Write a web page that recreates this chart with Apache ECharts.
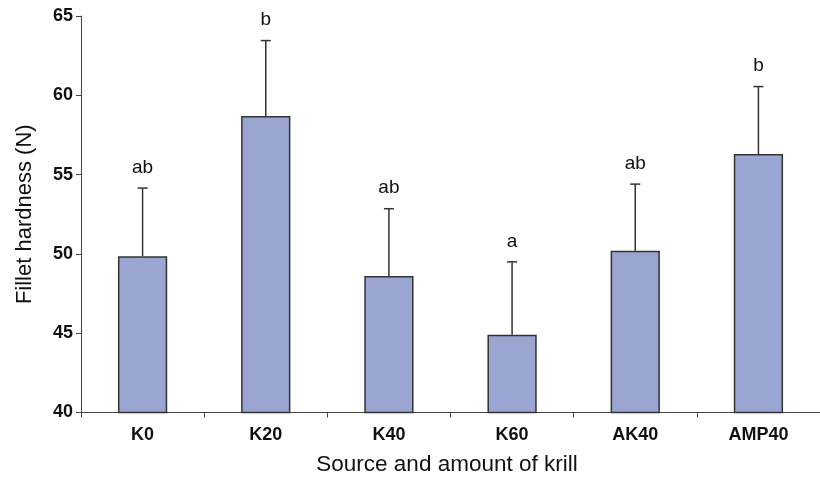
<!DOCTYPE html>
<html>
<head>
<meta charset="utf-8">
<script src="https://cdn.jsdelivr.net/npm/echarts@6/dist/echarts.min.js"></script>
<style>
  html, body { margin: 0; padding: 0; background: #fff; }
  #chart { width: 820px; height: 478px; }
</style>
</head>
<body>
<div id="chart"></div>
<script>
// Fillet hardness by krill source and inclusion level (mean + SD, with group letters)
const categories = ['K0', 'K20', 'K40', 'K60', 'AK40', 'AMP40'];
const means      = [49.85, 58.7, 48.6, 44.9, 50.2, 56.3];
const sds        = [4.3, 4.75, 4.25, 4.6, 4.2, 4.25];
const letters    = ['ab', 'b', 'ab', 'a', 'ab', 'b'];
const yTicks     = [40, 45, 50, 55, 60, 65];

const FONT = 'Liberation Sans, Arial, sans-serif';
const chart = echarts.init(document.getElementById('chart'), null, { renderer: 'canvas' });

const errData = categories.map((c, i) => [i, means[i], sds[i]]);

chart.setOption({
  animation: false,
  grid: { left: 81, right: 0, top: 16, bottom: 65.5, outerBoundsMode: 'none', containLabel: false },
  xAxis: {
    type: 'category',
    data: categories,
    axisLine: { lineStyle: { color: '#444', width: 1 } },
    axisTick: { show: true, length: 5, inside: false, lineStyle: { color: '#444' } },
    axisLabel: { color: '#111', fontFamily: FONT, fontWeight: 'bold', fontSize: 18, margin: 14 },
    name: 'Source and amount of krill',
    nameLocation: 'middle',
    nameGap: 41,
    nameTextStyle: { color: '#111', fontFamily: FONT, fontSize: 22.5, padding: [0, 7, 0, 0] }
  },
  yAxis: {
    type: 'value',
    min: yTicks[0],
    max: yTicks[yTicks.length - 1],
    interval: 5,
    splitLine: { show: false },
    axisLine: { show: true, lineStyle: { color: '#444', width: 1 } },
    axisTick: { show: true, length: 5, lineStyle: { color: '#444' } },
    axisLabel: { color: '#111', fontFamily: FONT, fontWeight: 'bold', fontSize: 18, margin: 8 },
    name: 'Fillet hardness (N)',
    nameLocation: 'middle',
    nameGap: 45,
    nameTextStyle: { color: '#111', fontFamily: FONT, fontSize: 22 }
  },
  series: [
    {
      type: 'bar',
      data: means,
      barWidth: '40%',
      itemStyle: { color: '#9ba5d1', borderColor: '#333', borderWidth: 1.5 },
      z: 2
    },
    {
      type: 'custom',
      data: errData,
      z: 3,
      renderItem: function (params, api) {
        const i = api.value(0);
        const m = api.value(1);
        const s = api.value(2);
        const base = api.coord([i, m]);
        const top = api.coord([i, m + s]);
        const cap = 5;
        return {
          type: 'group',
          children: [
            { type: 'line', shape: { x1: base[0], y1: base[1], x2: top[0], y2: top[1] },
              style: { stroke: '#333', lineWidth: 1.5 } },
            { type: 'line', shape: { x1: top[0] - cap, y1: top[1], x2: top[0] + cap, y2: top[1] },
              style: { stroke: '#333', lineWidth: 1.5 } },
            { type: 'text', x: top[0], y: top[1] - 11,
              style: { text: letters[params.dataIndex], fill: '#111', font: '19px ' + FONT,
                       align: 'center', verticalAlign: 'bottom' } }
          ]
        };
      }
    }
  ]
});
</script>
</body>
</html>
